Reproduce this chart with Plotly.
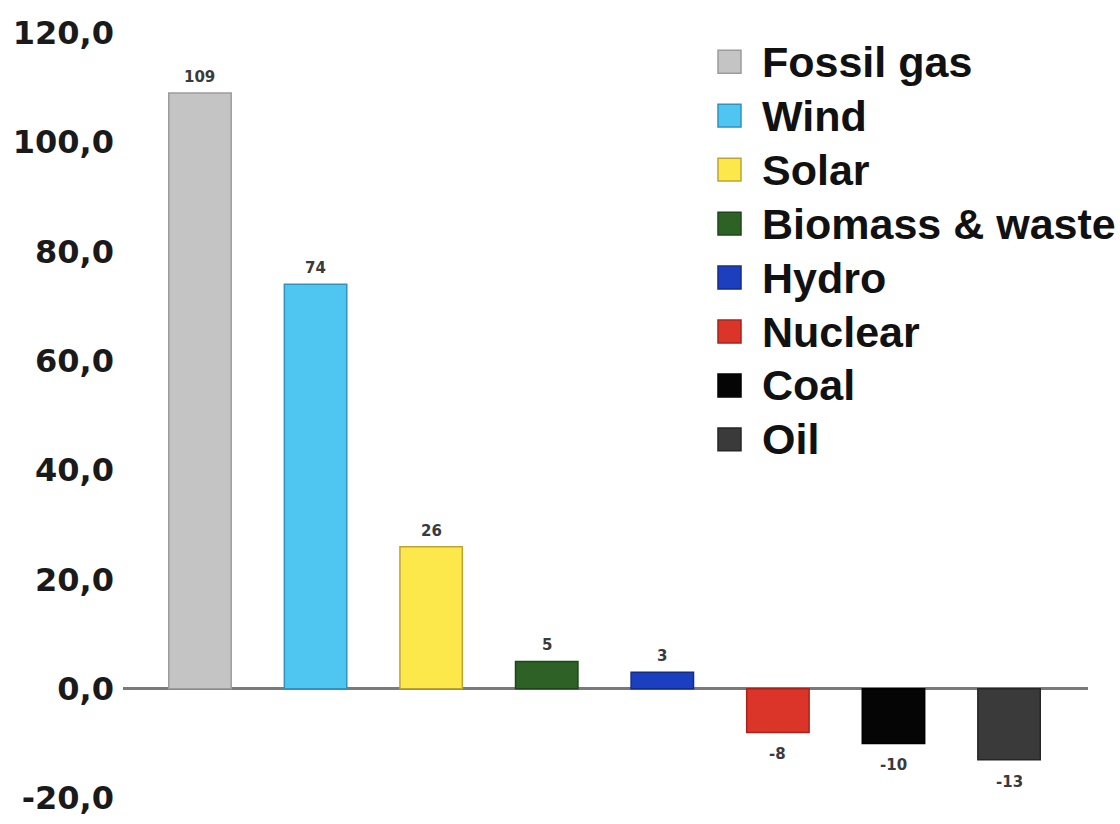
import plotly.graph_objects as go

# Change in electricity generation by source (TWh)
categories = ["Fossil gas", "Wind", "Solar", "Biomass & waste", "Hydro", "Nuclear", "Coal", "Oil"]
values = [109, 74, 26, 5, 3, -8, -10, -13]
fill_colors = ["#c4c4c4", "#4fc6f1", "#fde84b", "#2e6126", "#1c3fbf", "#db3428", "#050505", "#3a3a3a"]
edge_colors = ["#9c9c9c", "#2f93bd", "#bba532", "#1e4519", "#122c8c", "#a8231a", "#000000", "#262626"]

tick_values = [-20, 0, 20, 40, 60, 80, 100, 120]
tick_labels = ["-20,0", "0,0", "20,0", "40,0", "60,0", "80,0", "100,0", "120,0"]

W, H = 1120, 824
M_L, M_R, M_T, M_B = 123, 32, 14, 7
plot_w = W - M_L - M_R
plot_h = H - M_T - M_B

fig = go.Figure()
x_pos = list(range(len(categories)))
fig.add_trace(go.Bar(
    x=x_pos,
    y=values,
    width=0.54,
    marker=dict(color=fill_colors, line=dict(color=edge_colors, width=1.5)),
    showlegend=False,
    hoverinfo="skip",
))

# Value labels just outside the end of each bar
for xi, v in zip(x_pos, values):
    fig.add_annotation(x=xi, y=v, xref="x", yref="y", showarrow=False,
                       text=str(v), yshift=16 if v >= 0 else -22,
                       font=dict(family="DejaVu Sans", size=15, color="#3a3a3a", weight="bold"))

# Legend drawn as coloured squares with bold labels, top right
leg_x_px = 718
leg_y0_px = 62
leg_step_px = 54.3
sq = 23
for i, (name, fc, ec) in enumerate(zip(categories, fill_colors, edge_colors)):
    cy = leg_y0_px + i * leg_step_px
    x0 = (leg_x_px - M_L) / plot_w
    x1 = (leg_x_px + sq - M_L) / plot_w
    y0 = (H - M_B - (cy + sq / 2)) / plot_h
    y1 = (H - M_B - (cy - sq / 2)) / plot_h
    fig.add_shape(type="rect", xref="paper", yref="paper", x0=x0, x1=x1, y0=y0, y1=y1,
                  fillcolor=fc, line=dict(color=ec, width=1.5))
    fig.add_annotation(xref="paper", yref="paper",
                       x=(leg_x_px + 42 - M_L) / plot_w,
                       y=(H - M_B - cy) / plot_h,
                       xanchor="left", yanchor="middle", showarrow=False,
                       text=name,
                       font=dict(family="Liberation Sans", size=43, color="#111111", weight="bold"))

fig.update_layout(
    width=W, height=H,
    margin=dict(l=M_L, r=M_R, t=M_T, b=M_B),
    paper_bgcolor="white", plot_bgcolor="white",
    xaxis=dict(range=[-0.666, 7.683], showticklabels=False, showgrid=False,
               zeroline=False, showline=False, ticks=""),
    yaxis=dict(range=[-22.55, 123.45], tickvals=tick_values, ticktext=tick_labels,
               showgrid=False, showline=False, ticks="",
               zeroline=True, zerolinecolor="#7a7a7a", zerolinewidth=3,
               tickfont=dict(family="DejaVu Sans", size=32, color="#1a1a1a", weight="bold"),
               ticklabelstandoff=8),
)

fig.write_html("out.html")
